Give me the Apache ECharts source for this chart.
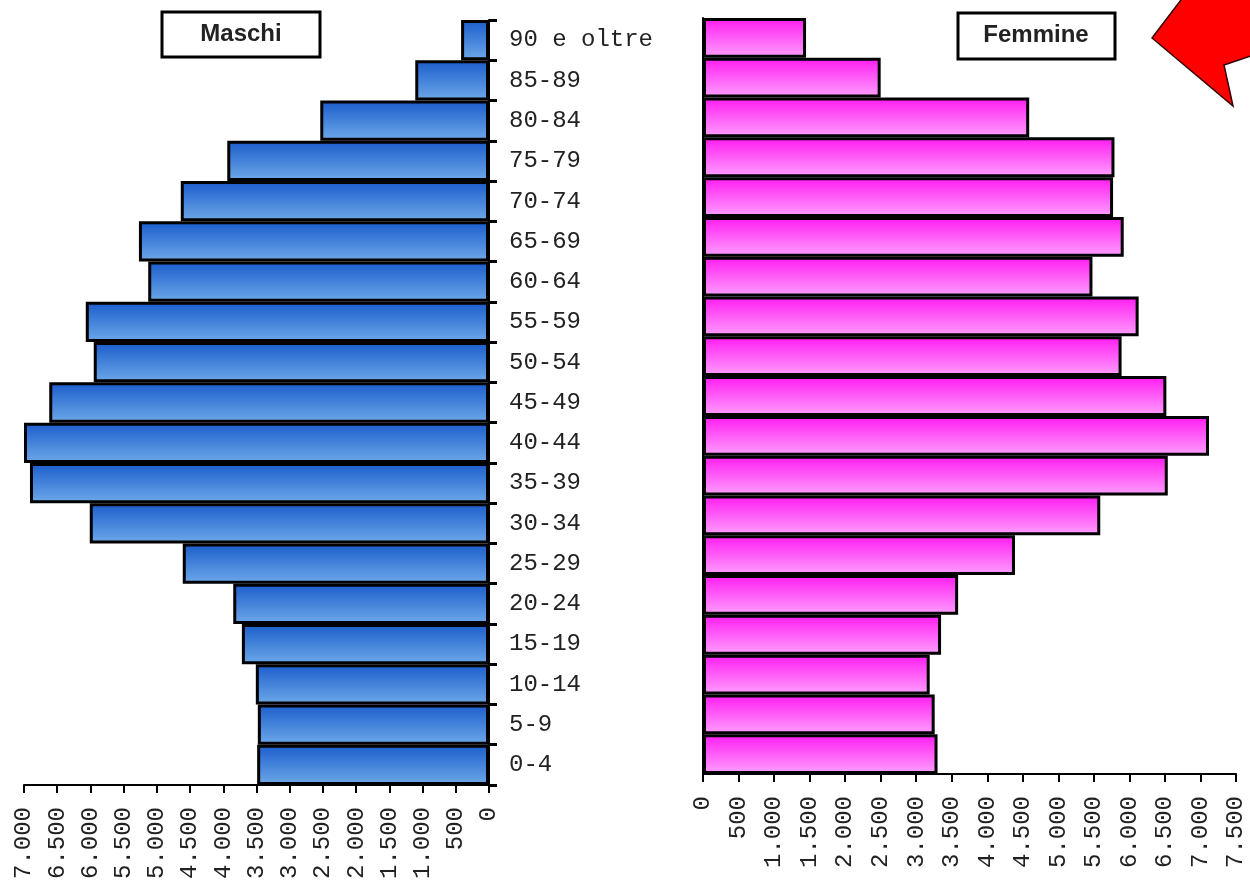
<!DOCTYPE html>
<html>
<head>
<meta charset="utf-8">
<script src="https://cdn.jsdelivr.net/npm/echarts@6/dist/echarts.min.js"></script>
<style>
html,body{margin:0;padding:0;background:#fff;}
#c{width:1250px;height:888px;}
</style>
</head>
<body>
<div id="c"></div>
<script>
var categories = ['0-4','5-9','10-14','15-19','20-24','25-29','30-34','35-39','40-44','45-49','50-54','55-59','60-64','65-69','70-74','75-79','80-84','85-89','90 e oltre'];
var maschi  = [3490,3480,3510,3720,3850,4610,6010,6910,7000,6620,5950,6070,5130,5270,4640,3940,2540,1110,420];
var femmine = [3300,3260,3190,3350,3590,4390,5590,6540,7120,6520,5890,6130,5480,5920,5770,5790,4590,2500,1450];
var maschiTitle = 'Maschi';
var femmineTitle = 'Femmine';

function fmt(v){
  if (v >= 1000) {
    var t = Math.floor(v/1000), r = v % 1000;
    return t + '.' + ('00' + r).slice(-3);
  }
  return String(v);
}

var mono = '"Liberation Mono", "DejaVu Sans Mono", monospace';
var chart = echarts.init(document.getElementById('c'));

var blueGrad = new echarts.graphic.LinearGradient(0,0,0,1,[
  {offset:0,color:'#1a5ccc'},{offset:1,color:'#6ea9e8'}]);
var pinkGrad = new echarts.graphic.LinearGradient(0,0,0,1,[
  {offset:0,color:'#ff1af0'},{offset:1,color:'#ffa0ff'}]);

chart.setOption({
  animation:false,
  backgroundColor:'#ffffff',
  grid:[
    {left:24, right:761, top:20, bottom:103},
    {left:703, right:14, top:18, bottom:114}
  ],
  xAxis:[
    {gridIndex:0, type:'value', inverse:true, min:0, max:7000, interval:500,
     splitLine:{show:false},
     axisLine:{show:true, lineStyle:{color:'#000', width:2}},
     axisTick:{show:true, length:8, lineStyle:{color:'#000', width:2}},
     axisLabel:{rotate:90, margin:22, formatter:fmt, fontFamily:mono, fontSize:24, color:'#222'}},
    {gridIndex:1, type:'value', min:0, max:7500, interval:500,
     splitLine:{show:false},
     axisLine:{show:true, lineStyle:{color:'#000', width:2}},
     axisTick:{show:true, length:8, lineStyle:{color:'#000', width:2}},
     axisLabel:{rotate:90, margin:22, formatter:fmt, fontFamily:mono, fontSize:24, color:'#222'}}
  ],
  yAxis:[
    {gridIndex:0, type:'category', data:categories, position:'right',
     axisLine:{show:true, lineStyle:{color:'#000', width:2}},
     axisTick:{show:true, length:8, lineStyle:{color:'#000', width:3}},
     axisLabel:{margin:20, fontFamily:mono, fontSize:24, color:'#222'}},
    {gridIndex:1, type:'category', data:categories, position:'left',
     axisLine:{show:true, lineStyle:{color:'#000', width:2}},
     axisTick:{show:false},
     axisLabel:{show:false}}
  ],
  series:[
    {type:'bar', xAxisIndex:0, yAxisIndex:0, data:maschi, barCategoryGap:'0%',
     itemStyle:{color:blueGrad, borderColor:'#000', borderWidth:3}},
    {type:'bar', xAxisIndex:1, yAxisIndex:1, data:femmine, barCategoryGap:'0%',
     itemStyle:{color:pinkGrad, borderColor:'#000', borderWidth:3}}
  ],
  graphic:[
    {type:'rect', shape:{x:162, y:12, width:158, height:45},
     style:{fill:'#fff', stroke:'#000', lineWidth:3}, z:10},
    {type:'text', x:241, y:34, z:11,
     style:{text:maschiTitle, fill:'#222', font:'bold 24px "Liberation Sans", Arial, sans-serif', align:'center', verticalAlign:'middle'}},
    {type:'rect', shape:{x:958, y:13, width:157, height:46},
     style:{fill:'#fff', stroke:'#000', lineWidth:3}, z:10},
    {type:'text', x:1036, y:35, z:11,
     style:{text:femmineTitle, fill:'#222', font:'bold 24px "Liberation Sans", Arial, sans-serif', align:'center', verticalAlign:'middle'}},
    {type:'polygon', z:12,
     shape:{points:[[1152,38],[1184,-4],[1254,-4],[1254,55],[1224,65],[1233,106]]},
     style:{fill:'#ff0000', stroke:'#330000', lineWidth:1.5}}
  ]
});
</script>
</body>
</html>
